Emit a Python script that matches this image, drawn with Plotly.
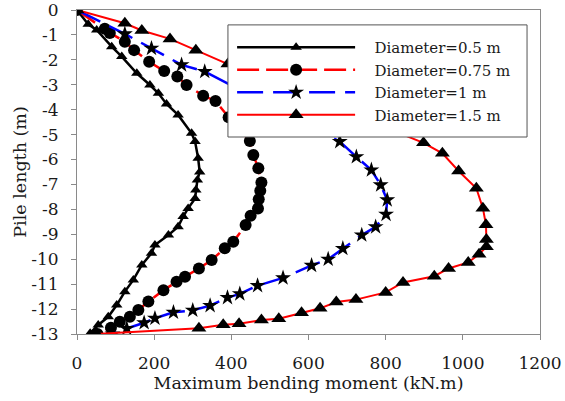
import plotly.graph_objects as go

# Maximum bending moment (kN.m) along pile length (m) for four pile diameters
x_d05 = [0, 29, 51, 90, 116, 155, 189, 211, 232, 262, 297, 306, 314, 318, 312, 308,
         306, 288, 275, 262, 237, 202, 193, 168, 146, 124, 103, 81, 55, 34]
y_d05 = [0, -0.57, -0.80, -1.47, -1.87, -2.54, -3.01, -3.34, -3.77, -4.21, -4.95, -5.28,
         -5.95, -6.50, -6.82, -7.22, -7.56, -7.96, -8.29, -8.70, -9.03, -9.43, -9.76,
         -10.23, -10.83, -11.30, -11.84, -12.31, -12.64, -12.97]

x_d075 = [0, 72, 85, 124, 148, 187, 226, 260, 284, 327, 359, 393, 448, 457, 470, 478,
          475, 471, 469, 450, 437, 405, 383, 349, 316, 280, 258, 224, 185, 159, 137, 111,
          88, 53]
y_d075 = [0, -0.75, -0.92, -1.27, -1.61, -2.08, -2.45, -2.67, -3.01, -3.44, -3.65, -4.30,
          -5.26, -5.82, -6.35, -6.92, -7.25, -7.59, -7.96, -8.26, -8.63, -9.30, -9.56,
          -10.03, -10.37, -10.70, -10.90, -11.24, -11.70, -12.04, -12.31, -12.51, -12.75,
          -13.0]

x_d1 = [0, 124, 193, 271, 331, 681, 724, 763, 787, 804, 801, 774, 738, 689, 651, 608,
        534, 468, 422, 390, 345, 300, 250, 202, 174, 129, 92]
y_d1 = [0, -0.96, -1.54, -2.20, -2.47, -5.28, -5.89, -6.42, -7.02, -7.62, -8.20, -8.70,
        -9.03, -9.57, -10.00, -10.25, -10.75, -11.06, -11.39, -11.54, -11.86, -12.05,
        -12.13, -12.37, -12.55, -12.78, -13.0]

x_d15 = [0, 124, 168, 241, 308, 391, 898, 947, 989, 1035, 1052, 1060, 1061, 1061, 1042,
         1014, 963, 926, 845, 800, 723, 672, 630, 582, 523, 478, 420, 379, 316, 50]
y_d15 = [0, -0.53, -0.82, -1.16, -1.61, -2.17, -5.33, -5.75, -6.46, -7.15, -7.95, -8.62,
         -9.21, -9.50, -9.80, -10.13, -10.37, -10.68, -10.93, -11.33, -11.62, -11.72,
         -11.97, -12.15, -12.39, -12.44, -12.59, -12.63, -12.77, -13.0]

names = ["Diameter=0.5 m", "Diameter=0.75 m", "Diameter=1 m", "Diameter=1.5 m"]

x_ticks = [0, 200, 400, 600, 800, 1000, 1200]
y_ticks = [0, -1, -2, -3, -4, -5, -6, -7, -8, -9, -10, -11, -12, -13]

SERIF = "DejaVu Serif"
TEXT = "#1a1a1a"
PAD = "\u00a0\u00a0\u00a0"  # gap between legend sample and its label

fig = go.Figure()
fig.add_trace(go.Scatter(
    x=x_d05, y=y_d05, name=PAD + names[0], mode="lines+markers",
    line=dict(color="black", width=2.5),
    marker=dict(symbol="triangle-up", size=10, color="black")))
fig.add_trace(go.Scatter(
    x=x_d075, y=y_d075, name=PAD + names[1], mode="lines+markers",
    line=dict(color="#ff0000", width=2.5, dash="22px,7px"),
    marker=dict(symbol="circle", size=12, color="black")))
fig.add_trace(go.Scatter(
    x=x_d1, y=y_d1, name=PAD + names[2], mode="lines+markers",
    line=dict(color="#0000ff", width=2.5, dash="26px,10px"),
    marker=dict(symbol="star", size=12, color="black")))
fig.add_trace(go.Scatter(
    x=x_d15, y=y_d15, name=PAD + names[3], mode="lines+markers",
    line=dict(color="#ff0000", width=2),
    marker=dict(symbol="triangle-up", size=13, color="black")))

axis_common = dict(
    showgrid=False, zeroline=False, showline=True, linecolor="#8a8a8a", linewidth=1,
    mirror=True, ticks="outside", ticklen=5, tickcolor="#8a8a8a",
    ticklabeloverflow="allow",
    tickfont=dict(family=SERIF, size=17, color=TEXT),
)

fig.update_xaxes(
    range=[0, 1200], tickmode="array", tickvals=x_ticks,
    ticktext=[str(v) for v in x_ticks], ticklabelstandoff=9,
    title=dict(text="Maximum bending moment (kN.m)", standoff=0,
               font=dict(family=SERIF, size=17.5, color=TEXT)),
    **axis_common)
fig.update_yaxes(
    range=[-13, 0], tickmode="array", tickvals=y_ticks,
    ticktext=[str(v) for v in y_ticks], ticklabelstandoff=9,
    title=dict(text="Pile length (m)", standoff=0,
               font=dict(family=SERIF, size=17.5, color=TEXT)),
    **axis_common)

# Framed white panel behind the legend entries
fig.add_shape(
    type="rect", xref="paper", yref="paper",
    x0=0.326, x1=0.972, y0=0.608, y1=0.954,
    fillcolor="white", line=dict(color="#555555", width=1), layer="above")

fig.update_layout(
    width=565, height=401,
    margin=dict(l=77, r=25, t=10, b=67, autoexpand=False),
    paper_bgcolor="white", plot_bgcolor="white",
    legend=dict(
        x=0.335, y=0.935, xanchor="left", yanchor="top",
        bgcolor="rgba(0,0,0,0)", borderwidth=0,
        font=dict(family=SERIF, size=15, color=TEXT),
        itemwidth=118, tracegroupgap=0,
    ),
)

fig.write_html("out.html")
